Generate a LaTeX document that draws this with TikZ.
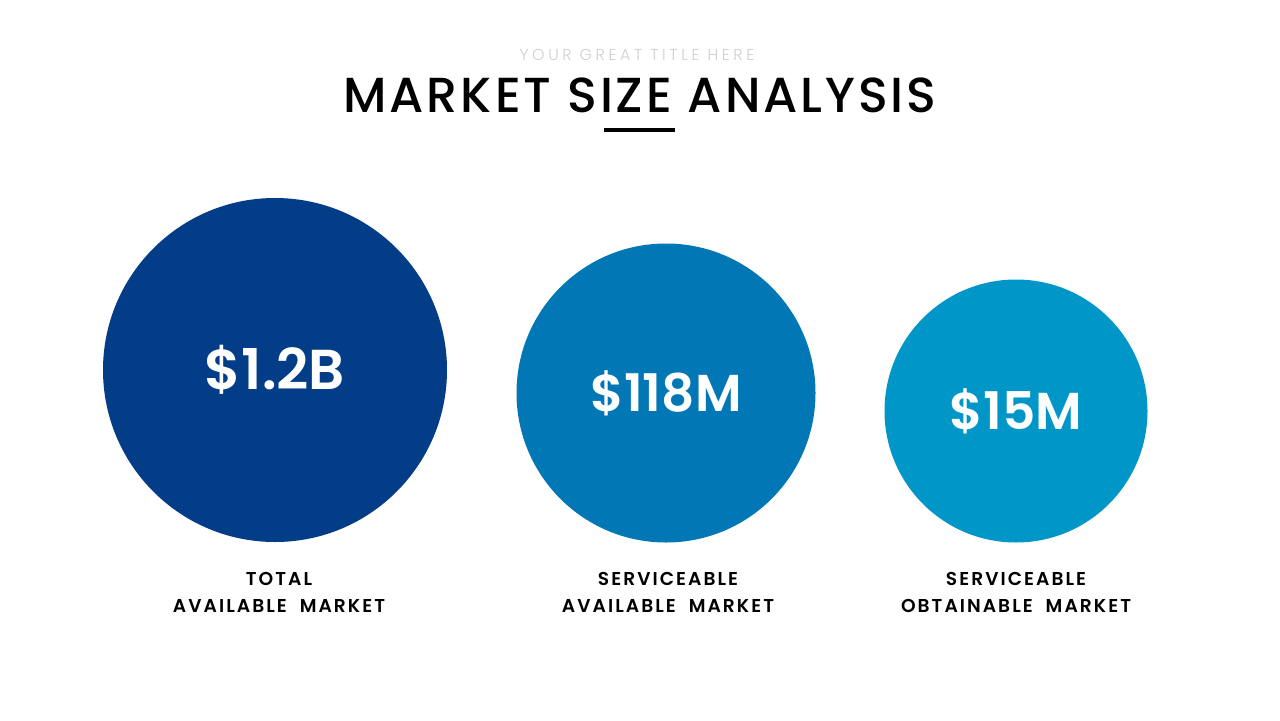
\documentclass[tikz,border=0pt]{standalone}
\usepackage{fontspec}
\setmainfont{Poppins}
\newfontfamily\medfont{Poppins Medium}[LetterSpace=6]
\newfontfamily\semifont{Poppins SemiBold}
\newfontfamily\labelfont{Poppins SemiBold}[LetterSpace=11]
\newfontfamily\lightfont{Poppins Light}[LetterSpace=23]
\usetikzlibrary{positioning}
\definecolor{mNavy}{HTML}{033C87}
\definecolor{mBlue}{HTML}{0277B5}
\definecolor{mSky}{HTML}{0097C8}
\definecolor{mGrey}{HTML}{CFCFCF}
\tikzset{
  market/.style={circle,text=white,inner sep=0pt,font=\semifont\fontsize{29.5}{36}\selectfont},
  caption/.style={align=center,text=black,inner sep=0pt,font=\labelfont\fontsize{10.6}{15.3}\selectfont},
}

\begin{document}
\begin{tikzpicture}
  \useasboundingbox[fill=white] (0,0) rectangle (25.6,-14.4);
  % heading
  \node[font=\lightfont\fontsize{9}{10}\selectfont,text=mGrey] (sub) at (12.74,-1.10) {YOUR GREAT TITLE HERE};
  \node[font=\medfont\fontsize{28}{32}\selectfont] (title) at (12.80,-1.90) {MARKET SIZE ANALYSIS};
  \coordinate (barL) at (12.08,-2.60);
  \coordinate (barR) at (13.50,-2.60);
  \draw[line width=0.08cm] (barL) -- (barR);

  % circles
  \node[market,fill=mNavy,minimum size=6.88cm,font=\semifont\fontsize{32}{36}\selectfont] (tam) at (5.50,-7.40) {\$1.2B};
  \node[market,fill=mBlue,minimum size=5.98cm] (sam) at (13.32,-7.86) {\$118M};
  \node[market,fill=mSky,minimum size=5.26cm] (som) at (20.32,-8.22) {\$15M};

  % captions
  \node[caption,anchor=north] (tamL) at (5.58,-11.44) {TOTAL\\AVAILABLE~~MARKET};
  \node[caption,anchor=north] (samL) at (13.36,-11.44) {SERVICEABLE\\AVAILABLE~~MARKET};
  \node[caption,anchor=north] (somL) at (20.32,-11.44) {SERVICEABLE\\OBTAINABLE~~MARKET};
\end{tikzpicture}
\end{document}
